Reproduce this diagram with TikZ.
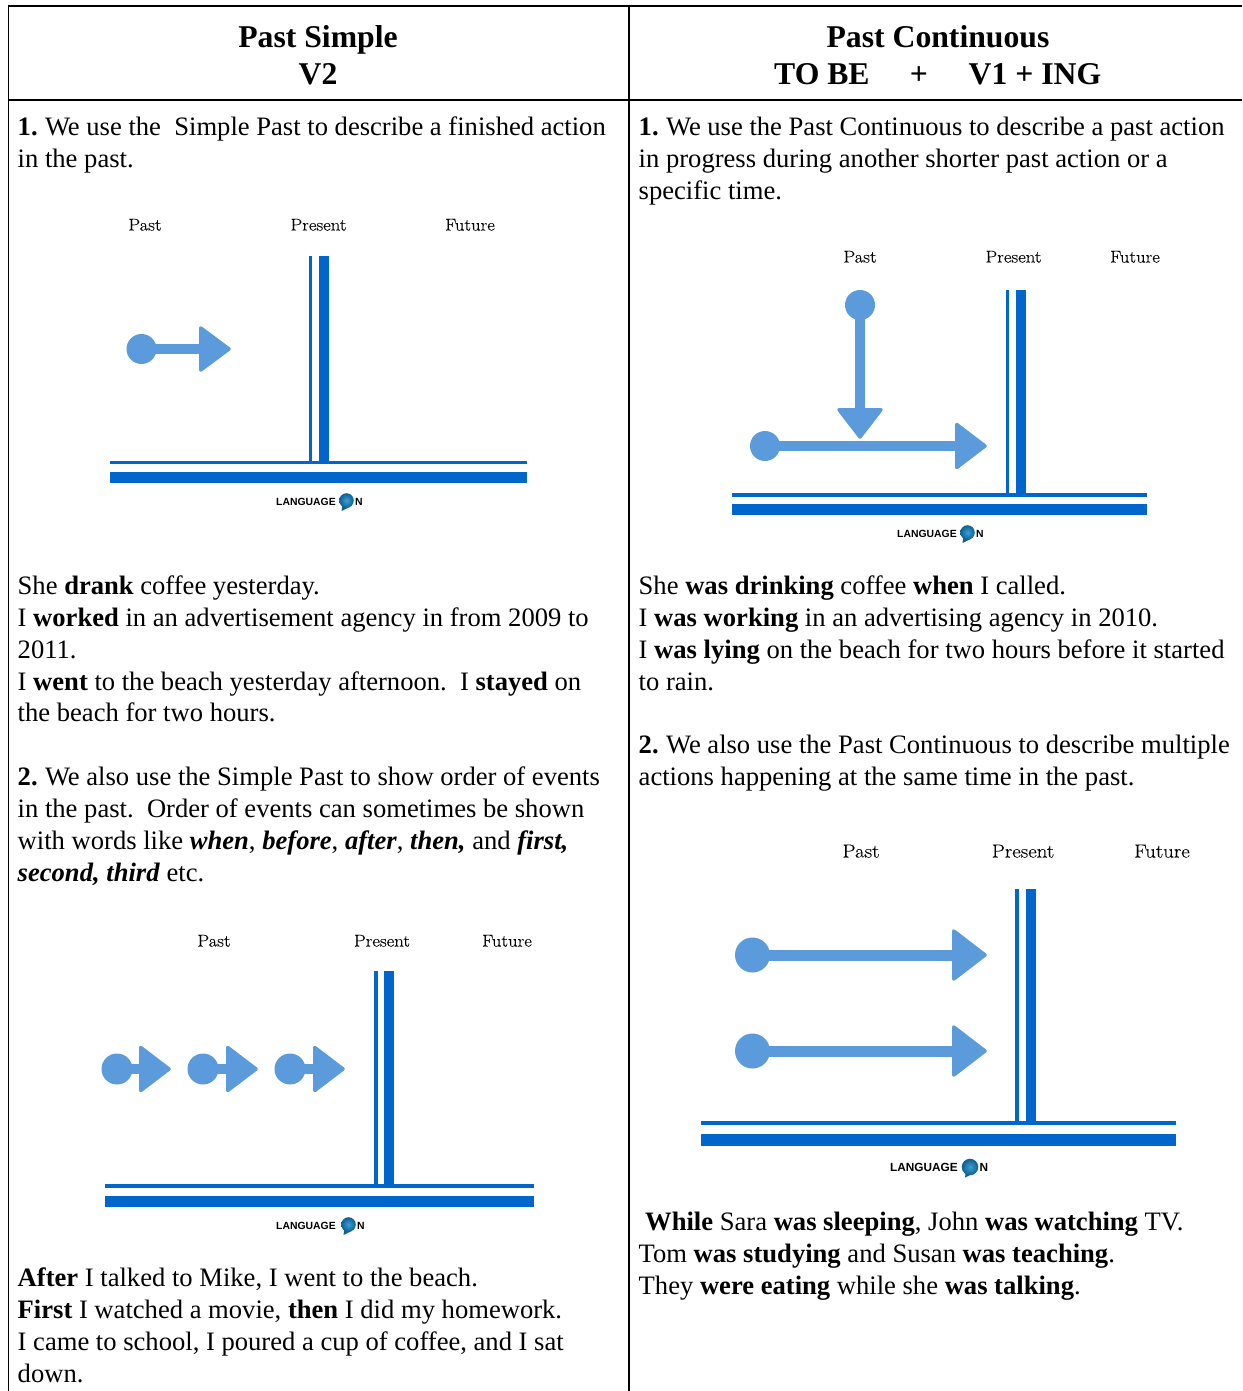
\documentclass[tikz,border=0pt]{standalone}
\usepackage{fontspec}
\setmainfont{Liberation Serif}
\newfontfamily\logofont{Liberation Sans}
\newfontfamily\tlfont[FakeStretch=1.1,FakeBold=0.12]{Latin Modern Roman}
\definecolor{deepblue}{HTML}{0066CC}
\definecolor{softblue}{HTML}{5B9BDB}
\definecolor{bubbleout}{HTML}{0F5F8F}
\definecolor{bubblein}{HTML}{3A9FD8}
\tikzset{
  x=1pt,y=-1pt,
  rulev/.style={line width=1.4pt,black},
  headrule/.style={line width=2pt,black},
  textline/.style={inner sep=0pt,anchor=base west,font=\fontsize{26.6}{30}\selectfont},
  titletext/.style={inner sep=0pt,anchor=base,font=\fontsize{31.7}{34}\selectfont\bfseries},
  barfill/.style={fill=deepblue,draw=none},
  dotfill/.style={fill=softblue,draw=none},
  arrowfill/.style={fill=softblue,draw=softblue,line width=3.5pt,line join=round},
  ticklabel/.style={inner sep=0pt,anchor=base,font=\fontsize{#1}{#1}\tlfont},
  logotext/.style={inner sep=0pt,anchor=base west,font=\fontsize{#1}{#1}\logofont\bfseries},
}
\newcommand{\timeline}[9]{%
  \fill[barfill] (#1,#3) rectangle (#2,#3+3.6);
  \fill[barfill] (#1,#4) rectangle (#2,#5);
  \fill[barfill] (#6,#9) rectangle (#7,#3);
  \fill[barfill] (#8,#9) rectangle (#8+9.5,#3);
}
\newcommand{\harrow}[7]{%
  \fill[dotfill] (#1,#2) circle (#3);
  \fill[dotfill] (#1,#2-#4) rectangle (#5,#2+#4);
  \filldraw[arrowfill] (#5+1.75,#2-#7+2) -- (#6-2,#2) -- (#5+1.75,#2+#7-2) -- cycle;
}
\newcommand{\brand}[4]{%
  \node[logotext=#3] at (#1,#2) {LANGUAGE};
  \fill[bubbleout] (#4-4,#2-1) -- (#4-5,#2+6) -- (#4+3,#2+2) -- cycle;
  \shade[inner color=bubblein,outer color=bubbleout] (#4,#2-4.5) circle (#3*0.7);
  \node[logotext=#3] at (#4+#3*0.8,#2) {N};
}
\begin{document}
\begin{tikzpicture}
\useasboundingbox (0,0) rectangle (1242,1391);
\fill[white] (0,0) rectangle (1242,1391);
% table
\draw[headrule] (8,6) -- (1242,6);
\draw[headrule] (8,100.5) -- (1242,100.5);
\draw[rulev] (8.7,5) -- (8.7,1391);
\draw[rulev] (629,5) -- (629,1391);
% titles
\node[titletext] (t1) at (318,48) {Past Simple};
\node[titletext] (t2) at (318,85) {V2};
\node[titletext] (t3) at (938,48) {Past Continuous};
\node[titletext,anchor=base west] (t4) at (774,85) {TO BE};
\node[titletext] (t5) at (919,85) {+};
\node[titletext,anchor=base west] (t6) at (968.5,85) {V1 + ING};
% left column
\node[textline] (l1) at (17.5,136) {\textbf{1.}\hspace{-1.5pt} We use the\ \ Simple Past to describe a finished action};
\node[textline] (l2) at (17.5,167.5) {in the past.};
\node[textline] (l3) at (17.5,594) {She \textbf{drank} coffee yesterday.};
\node[textline] (l4) at (17.5,626) {I \textbf{worked} in an advertisement agency in from 2009 to};
\node[textline] (l5) at (17.5,658) {2011.};
\node[textline] (l6) at (17.5,690) {I \textbf{went} to the beach yesterday afternoon.\ \ I \textbf{stayed} on};
\node[textline] (l7) at (17.5,721) {the beach for two hours.};
\node[textline] (l8) at (17.5,785) {\textbf{2.}\hspace{-1.5pt} We also use the Simple Past to show order of events};
\node[textline] (l9) at (17.5,817) {in the past.\ \ Order of events can sometimes be shown};
\node[textline] (l10) at (17.5,849) {with words like \textbf{\textit{when}}, \textbf{\textit{before}}, \textbf{\textit{after}}, \textbf{\textit{then,}} and \textbf{\textit{first,}}};
\node[textline] (l11) at (17.5,881) {\textbf{\textit{second, third}} etc.};
\node[textline] (l12) at (17.5,1286) {\textbf{After} I talked to Mike, I went to the beach.};
\node[textline] (l13) at (17.5,1318) {\textbf{First} I watched a movie, \textbf{then} I did my homework.};
\node[textline] (l14) at (17.5,1350) {I came to school, I poured a cup of coffee, and I sat};
\node[textline] (l15) at (17.5,1382) {down.};
% right column
\node[textline] (r1) at (638.5,136) {\textbf{1.}\hspace{-1.5pt} We use the Past Continuous to describe a past action};
\node[textline] (r2) at (638.5,167.5) {in progress during another shorter past action or a};
\node[textline] (r3) at (638.5,200) {specific time.};
\node[textline] (r4) at (638.5,594) {She \textbf{was drinking} coffee \textbf{when} I called.};
\node[textline] (r5) at (638.5,626) {I \textbf{was working} in an advertising agency in 2010.};
\node[textline] (r6) at (638.5,658) {I \textbf{was lying} on the beach for two hours before it started};
\node[textline] (r7) at (638.5,690) {to rain.};
\node[textline] (r8) at (638.5,753) {\textbf{2.}\hspace{-1.5pt} We also use the Past Continuous to describe multiple};
\node[textline] (r9) at (638.5,785) {actions happening at the same time in the past.};
\node[textline] (r10) at (645,1230) {\textbf{While} Sara \textbf{was sleeping}, John \textbf{was watching} TV.};
\node[textline] (r11) at (638.5,1262) {Tom \textbf{was studying} and Susan \textbf{was teaching}.};
\node[textline] (r12) at (638.5,1294) {They \textbf{were eating} while she \textbf{was talking}.};
% diagram 1
\node[ticklabel=17] (d1a) at (145,230.5) {Past};
\node[ticklabel=17] (d1b) at (318.5,230.5) {Present};
\node[ticklabel=17] (d1c) at (470,230.5) {Future};
\timeline{110}{527}{460.7}{472.3}{482.7}{309}{312.3}{319}{256}
\harrow{141.5}{349}{15}{4.8}{199}{231}{23}
\brand{276}{505}{10.4}{346.5}
% diagram 2
\node[ticklabel=17] (d2a) at (860,262.5) {Past};
\node[ticklabel=17] (d2b) at (1013.5,262.5) {Present};
\node[ticklabel=17] (d2c) at (1135,262.5) {Future};
\timeline{732}{1147}{493}{504}{515}{1006}{1009.3}{1016}{290}
\harrow{765}{446}{15}{4.8}{955}{987}{23.5}
\fill[dotfill] (860,305) circle (15);
\fill[dotfill] (855.2,305) rectangle (864.8,408);
\filldraw[arrowfill] (839,409.75) -- (860,437) -- (881,409.75) -- cycle;
\brand{897}{537}{10.4}{967.5}
% diagram 3
\node[ticklabel=17] (d3a) at (214,946.5) {Past};
\node[ticklabel=17] (d3b) at (382,946.5) {Present};
\node[ticklabel=17] (d3c) at (507,946.5) {Future};
\timeline{105}{534}{1184}{1196}{1207}{374}{377.5}{384}{971}
\harrow{117}{1069}{15.5}{4.8}{139}{171}{23.5}
\harrow{203}{1069}{15.5}{4.8}{226}{258}{23.5}
\harrow{290}{1069}{15.5}{4.8}{313}{345}{23.5}
\brand{276}{1229}{10.4}{348.5}
% diagram 4
\node[ticklabel=19] (d4a) at (861,857.5) {Past};
\node[ticklabel=19] (d4b) at (1023,857.5) {Present};
\node[ticklabel=19] (d4c) at (1162,857.5) {Future};
\timeline{701}{1176}{1121}{1134}{1146}{1015}{1018.5}{1026}{889}
\harrow{752.5}{955}{17.5}{5.5}{952}{987}{26}
\harrow{752.5}{1051}{17.5}{5.5}{952}{987}{26}
\brand{890}{1171.5}{11.8}{970}
\end{tikzpicture}
\end{document}
